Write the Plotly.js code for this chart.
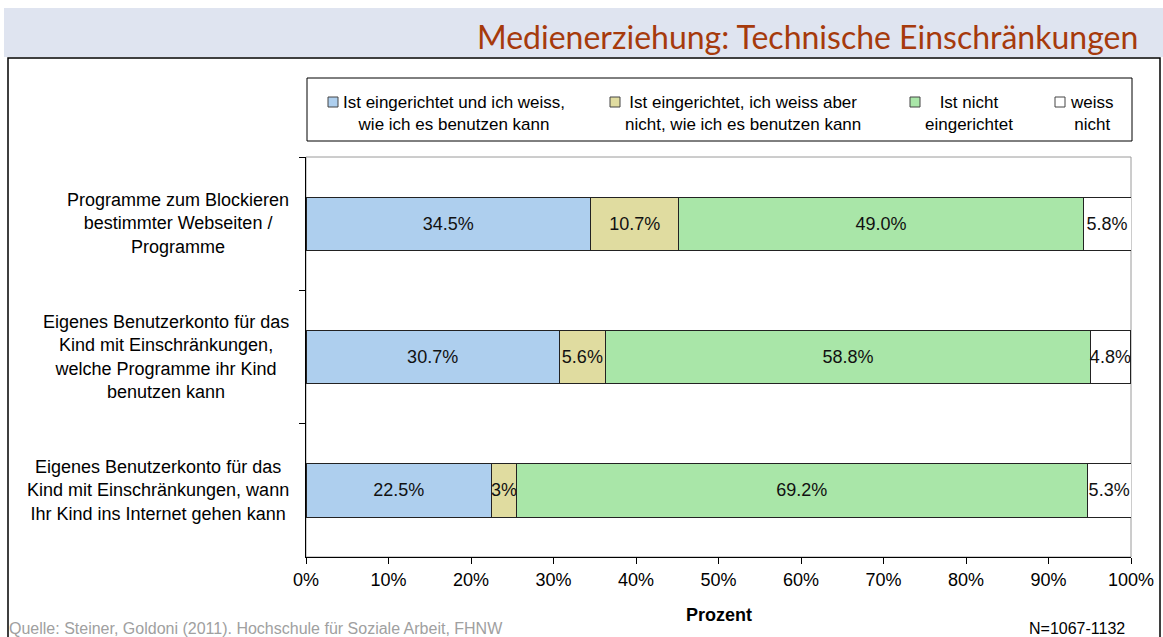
<!DOCTYPE html>
<html><head><meta charset="utf-8">
<script src="https://cdn.plot.ly/plotly-3.0.1.min.js"></script>
<style>html,body{margin:0;padding:0;background:#fff;}#chart{width:1163px;height:637px;}</style>
</head><body><div id="chart"></div>
<script>
var categories = [
  "Programme zum Blockieren<br>bestimmter Webseiten /<br>Programme",
  "Eigenes Benutzerkonto für das<br>Kind mit Einschränkungen,<br>welche Programme ihr Kind<br>benutzen kann",
  "Eigenes Benutzerkonto für das<br>Kind mit Einschränkungen, wann<br>Ihr Kind ins Internet gehen kann"
];
var seriesNames = [
  "Ist eingerichtet und ich weiss,<br>wie ich es benutzen kann",
  "Ist eingerichtet, ich weiss aber<br>nicht, wie ich es benutzen kann",
  "Ist nicht<br>eingerichtet",
  "weiss<br>nicht"
];
var valsKnow    = [34.5, 30.7, 22.5];
var valsNotKnow = [10.7, 5.6, 3];
var valsNot     = [49.0, 58.8, 69.2];
var valsDontKnow= [5.8, 4.8, 5.3];
var labelsKnow    = ["34.5%", "30.7%", "22.5%"];
var labelsNotKnow = ["10.7%", "5.6%", "3%"];
var labelsNot     = ["49.0%", "58.8%", "69.2%"];
var labelsDontKnow= ["5.8%", "4.8%", "5.3%"];
var colors = ["#AECFEE", "#E0DCA0", "#A9E6A8", "#FFFFFF"];
var xTicks = [0,10,20,30,40,50,60,70,80,90,100];

var allVals = [valsKnow, valsNotKnow, valsNot, valsDontKnow];
var allLabels = [labelsKnow, labelsNotKnow, labelsNot, labelsDontKnow];
var FONT = "Liberation Sans, Arial, sans-serif";

var traces = allVals.map(function(v, i){
  return {
    type: "bar", orientation: "h", name: seriesNames[i],
    x: v, y: categories, width: 0.4,
    marker: {color: colors[i], line: {color: "#222", width: 1}},
    text: allLabels[i], textposition: "inside", insidetextanchor: "middle",
    textangle: 0, constraintext: "none", cliponaxis: false,
    textfont: {family: FONT, size: 18, color: "#111"},
    hoverinfo: "skip", showlegend: false
  };
});

// pixel -> paper helpers (plot area: x 306..1131, y 157..557)
var L = 306, R = 1131, T = 157, B = 557;
function px(x){ return (x - L) / (R - L); }
function py(y){ return (B - y) / (B - T); }

var shapes = [
  {type:"rect", xref:"paper", yref:"paper", x0:px(4), x1:px(1163), y0:py(57), y1:py(8), fillcolor:"#DFE4F0", line:{width:0}, layer:"below"},
  {type:"rect", xref:"paper", yref:"paper", x0:px(8), x1:px(1160), y0:py(650), y1:py(58), fillcolor:"rgba(0,0,0,0)", line:{color:"#000", width:1.5}, layer:"below"},
  {type:"rect", xref:"paper", yref:"paper", x0:0, x1:1, y0:0, y1:1, fillcolor:"rgba(0,0,0,0)", line:{color:"#9a9a9a", width:1}, layer:"below"},
  {type:"rect", xref:"paper", yref:"paper", x0:px(307), x1:px(1132), y0:py(141), y1:py(78), fillcolor:"#fff", line:{color:"#000", width:1}, layer:"below"}
];
var annotations = [];
// legend
var legSquareX = [328, 610, 910, 1055];
var legTextX = [341, 623, 923, 1068];
for (var i = 0; i < 4; i++){
  shapes.push({type:"rect", xref:"paper", yref:"paper", x0:px(legSquareX[i]), x1:px(legSquareX[i]+10), y0:py(107), y1:py(97), fillcolor:colors[i], line:{color:"#444", width:1}});
  annotations.push({xref:"paper", yref:"paper", x:px(legTextX[i]), y:py(91), xanchor:"left", yanchor:"top", align:"center", showarrow:false, text:seriesNames[i], font:{family:FONT, size:17, color:"#000"}});
}
// category labels
categories.forEach(function(c){
  annotations.push({xref:"paper", yref:"y", x:px(291), y:c, xanchor:"right", yanchor:"middle", align:"center", showarrow:false, text:c, font:{family:FONT, size:18, color:"#000"}});
});
annotations.push({xref:"paper", yref:"paper", x:px(1140), y:py(37), xanchor:"right", yanchor:"middle", showarrow:false, text:"Medienerziehung: Technische Einschränkungen", font:{family:"Lato, Open Sans, sans-serif", size:32, color:"#A63A0C"}});
annotations.push({xref:"paper", yref:"paper", x:0.5, y:py(615), xanchor:"center", yanchor:"middle", showarrow:false, text:"<b>Prozent</b>", font:{family:FONT, size:18, color:"#000"}});
annotations.push({xref:"paper", yref:"paper", x:px(7), y:py(628), xanchor:"left", yanchor:"middle", showarrow:false, text:"Quelle: Steiner, Goldoni (2011). Hochschule für Soziale Arbeit, FHNW", font:{family:FONT, size:16, color:"#A0A0A0"}});
annotations.push({xref:"paper", yref:"paper", x:px(1127), y:py(628), xanchor:"right", yanchor:"middle", showarrow:false, text:"N=1067-1132", font:{family:FONT, size:16, color:"#000"}});

var layout = {
  width: 1163, height: 637,
  margin: {l: L, r: 1163 - R, t: T, b: 637 - B, pad: 0},
  paper_bgcolor: "#fff", plot_bgcolor: "#fff",
  barmode: "stack", showlegend: false,
  font: {family: FONT, size: 18, color: "#000"},
  xaxis: {range: [0, 100], tickvals: xTicks, ticktext: xTicks.map(function(t){return t + "%";}),
          showgrid: false, zeroline: false, showline: true, linecolor: "#000", linewidth: 1,
          ticks: "outside", ticklen: 6, tickcolor: "#000", tickfont: {family: FONT, size: 18, color: "#000"}, fixedrange: true},
  yaxis: {type: "category", autorange: "reversed", showticklabels: false, showgrid: false, zeroline: false,
          showline: true, linecolor: "#000", linewidth: 1, ticks: "outside", ticklen: 6, tickcolor: "#000",
          tickson: "boundaries", fixedrange: true},
  shapes: shapes, annotations: annotations
};
Plotly.newPlot("chart", traces, layout, {displayModeBar: false, staticPlot: true});
</script></body></html>
